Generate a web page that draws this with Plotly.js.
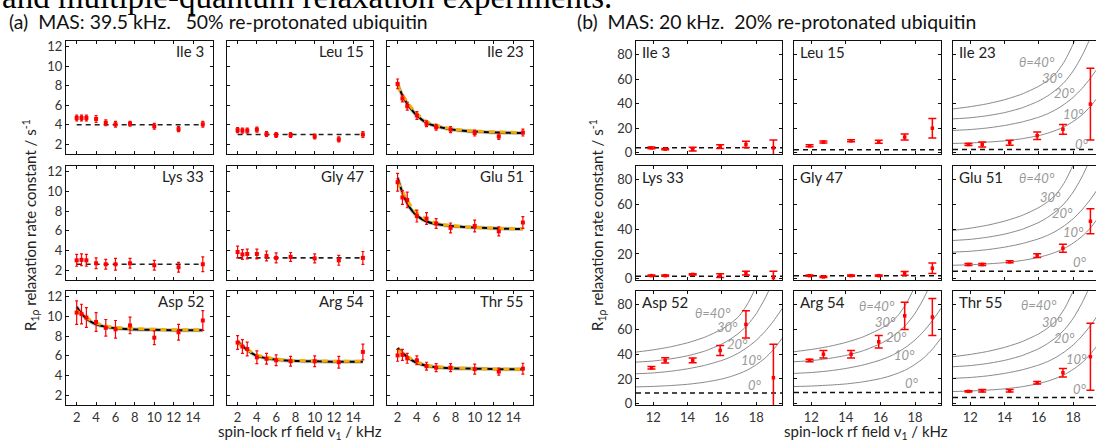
<!DOCTYPE html>
<html><head><meta charset="utf-8">
<script src="https://cdn.plot.ly/plotly-3.0.1.min.js"></script>
<style>html,body{margin:0;padding:0;overflow:hidden;background:#fff;width:1096px;height:441px}</style>
</head><body><div id="chart" style="width:1100px;height:441px"></div>
<script>
// ---------------- DATA ----------------
const residueNames = ['Ile 3','Leu 15','Ile 23','Lys 33','Gly 47','Glu 51','Asp 52','Arg 54','Thr 55'];
// (a) MAS 39.5 kHz
const fieldA = [2, 2.5, 3, 4, 5, 6, 7.5, 10, 12.5, 15];
const fitGridA = [2, 2.5, 3, 3.5, 4, 5, 6, 7.5, 10, 12.5, 15];
const a_Ile3  = [4.7, 4.7, 4.7, 4.6, 4.2, 4.05, 4.1, 3.85, 3.55, 4.05];
const a_Leu15 = [3.45, 3.4, 3.4, 3.5, 3.05, 2.95, 2.95, 2.8, 2.5, 3.0];
const a_Ile23 = [8.2, 6.7, 5.9, 4.95, 4.1, 3.75, 3.5, 3.15, 2.8, 3.2];
const a_Lys33 = [3.0, 3.05, 3.0, 2.7, 2.6, 2.6, 2.7, 2.5, 2.3, 2.6];
const a_Gly47 = [3.85, 3.6, 3.65, 3.65, 3.45, 3.25, 3.35, 3.2, 3.0, 3.25];
const a_Glu51 = [10.95, 9.4, 9.15, 7.5, 7.25, 6.75, 6.3, 6.5, 5.95, 6.85];
const a_Asp52 = [10.4, 10.25, 9.9, 9.45, 8.85, 8.7, 9.1, 7.85, 8.4, 9.6];
const a_Arg54 = [7.35, 6.95, 6.7, 5.85, 5.7, 5.55, 5.45, 5.45, 5.35, 6.4];
const a_Thr55 = [6.05, 6.1, 5.75, 5.55, 4.95, 4.8, 4.8, 4.65, 4.4, 4.7];
const aErr_Ile3  = [0.3, 0.3, 0.3, 0.35, 0.3, 0.3, 0.25, 0.3, 0.25, 0.3];
const aErr_Leu15 = [0.25, 0.25, 0.25, 0.25, 0.25, 0.25, 0.25, 0.25, 0.25, 0.3];
const aErr_Ile23 = [0.5, 0.35, 0.4, 0.4, 0.3, 0.3, 0.3, 0.3, 0.3, 0.35];
const aErr_Lys33 = [0.6, 0.6, 0.6, 0.55, 0.5, 0.6, 0.5, 0.5, 0.5, 0.75];
const aErr_Gly47 = [0.6, 0.5, 0.5, 0.5, 0.5, 0.5, 0.45, 0.45, 0.5, 0.65];
const aErr_Glu51 = [0.9, 0.7, 0.8, 0.6, 0.6, 0.5, 0.5, 0.6, 0.45, 0.6];
const aErr_Asp52 = [1.2, 1.0, 1.0, 0.95, 0.85, 0.9, 0.85, 0.7, 0.8, 1.0];
const aErr_Arg54 = [0.7, 0.7, 0.7, 0.65, 0.55, 0.55, 0.5, 0.55, 0.6, 0.8];
const aErr_Thr55 = [0.6, 0.55, 0.5, 0.45, 0.4, 0.4, 0.4, 0.5, 0.35, 0.55];
const flatA = [4.0, 3.0, null, 2.6, 3.25, null, null, null, null];
const blackFit_Ile23 = [8.2, 7.0, 6.15, 5.5, 4.95, 4.2, 3.85, 3.55, 3.3, 3.2, 3.15];
const orangeFit_Ile23 = [8.0, 7.1, 6.35, 5.7, 5.15, 4.35, 3.95, 3.6, 3.35, 3.25, 3.2];
const blackFit_Glu51 = [11.4, 9.9, 8.8, 8.05, 7.55, 6.95, 6.7, 6.5, 6.35, 6.25, 6.2];
const orangeFit_Glu51 = [11.0, 10.0, 9.1, 8.4, 7.85, 7.15, 6.8, 6.55, 6.35, 6.25, 6.2];
const blackFit_Asp52 = [11.0, 10.3, 9.8, 9.45, 9.2, 8.95, 8.8, 8.7, 8.65, 8.6, 8.6];
const orangeFit_Asp52 = [10.6, 10.2, 9.9, 9.6, 9.35, 9.05, 8.9, 8.8, 8.7, 8.65, 8.65];
const blackFit_Arg54 = [7.5, 7.0, 6.6, 6.25, 6.0, 5.75, 5.6, 5.5, 5.45, 5.4, 5.4];
const orangeFit_Arg54 = [7.3, 6.95, 6.65, 6.35, 6.1, 5.85, 5.7, 5.55, 5.5, 5.45, 5.45];
const blackFit_Thr55 = [6.8, 6.3, 5.9, 5.55, 5.3, 5.0, 4.85, 4.75, 4.7, 4.65, 4.65];
const orangeFit_Thr55 = [6.6, 6.25, 5.95, 5.65, 5.4, 5.05, 4.9, 4.8, 4.7, 4.65, 4.65];

// (b) MAS 20 kHz
const fieldB = [11.9, 12.7, 14.3, 15.9, 17.4, 19.0];
const b_Ile3  = [4, 3, 3, 5, 6.8, 4];
const b_Leu15 = [5.7, 8.7, 9.8, 9.0, 12.8, 20];
const b_Ile23 = [6.8, 6.8, 8.2, 13.9, 19.1, 39.6];
const b_Lys33 = [2.5, 2.5, 3.5, 2.5, 4.5, 1.0];
const b_Gly47 = [2.5, 1.5, 2.5, 2.5, 4.3, 8.5];
const b_Glu51 = [11.5, 11.5, 13.7, 18.6, 24.6, 46.4];
const b_Asp52 = [29, 35, 35, 43, 64, 21];
const b_Arg54 = [35, 40, 40, 50, 71, 70];
const b_Thr55 = [10, 10.5, 10.5, 17, 25, 38];
const bErr_Ile3  = [0.8, 0.5, 1.5, 1.5, 2.6, 6.5];
const bErr_Leu15 = [0.8, 0.8, 0.8, 1.2, 2.5, 8];
const bErr_Ile23 = [0.8, 2, 2, 3, 4, 29.3];
const bErr_Lys33 = [0.5, 0.5, 0.5, 1.5, 1.5, 5];
const bErr_Gly47 = [0.5, 0.5, 0.5, 0.5, 1.5, 4.2];
const bErr_Glu51 = [0.8, 0.8, 0.8, 1.5, 3.2, 10];
const bErr_Asp52 = [1, 2.2, 2, 4, 11, 27];
const bErr_Arg54 = [1, 3, 3, 5, 11, 15];
const bErr_Thr55 = [0.5, 1, 1, 1, 3.5, 27];
const baseB = [4.0, 2.5, 2.7, 2.0, 2.5, 6.0, 8.7, 9.0, 5.0];
const thetaGridB = [11, 12, 13, 14, 15, 16, 16.5, 17, 17.5, 18, 18.5, 19, 19.5];
const thetaLabels = ['θ=40°', '30°', '20°', '10°', '0°'];
const th10_Ile23 = [7.6, 8.0, 8.7, 9.7, 11.4, 14.0, 15.9, 18.3, 21.3, 25.5, 30.7, 37.7, 46.7];
const th20_Ile23 = [18.2, 18.9, 20.2, 22.2, 25.0, 29.0, 31.7, 35.2, 39.7, 45.2, 52.2, 60.7, 70.7];
const th30_Ile23 = [27.6, 28.5, 30.2, 32.7, 36.5, 42.2, 46.2, 51.2, 57.7, 66.7, 78.7, 93.7, 112.7];
const th40_Ile23 = [35.7, 37.5, 39.9, 43.2, 47.7, 54.2, 58.7, 64.7, 74.7, 88.7, 106.7, 127.7, 152.7];
const th10_Glu51 = [10.9, 11.3, 12.0, 13.0, 14.7, 17.3, 19.2, 21.6, 24.6, 28.8, 34, 41, 50];
const th20_Glu51 = [21.5, 22.2, 23.5, 25.5, 28.3, 32.3, 35, 38.5, 43, 48.5, 55.5, 64, 74];
const th30_Glu51 = [30.9, 31.8, 33.5, 36, 39.8, 45.5, 49.5, 54.5, 61, 70, 82, 97, 116];
const th40_Glu51 = [39, 40.8, 43.2, 46.5, 51, 57.5, 62, 68, 78, 92, 110, 131, 156];
const th10_Asp52 = [13.6, 14.0, 14.7, 15.7, 17.4, 20.0, 21.9, 24.3, 27.3, 31.5, 36.7, 43.7, 52.7];
const th20_Asp52 = [24.2, 24.9, 26.2, 28.2, 31.0, 35.0, 37.7, 41.2, 45.7, 51.2, 58.2, 66.7, 76.7];
const th30_Asp52 = [33.6, 34.5, 36.2, 38.7, 42.5, 48.2, 52.2, 57.2, 63.7, 72.7, 84.7, 99.7, 118.7];
const th40_Asp52 = [41.7, 43.5, 45.9, 49.2, 53.7, 60.2, 64.7, 70.7, 80.7, 94.7, 112.7, 133.7, 158.7];
const th10_Arg54 = [13.9, 14.3, 15.0, 16.0, 17.7, 20.3, 22.2, 24.6, 27.6, 31.8, 37, 44, 53];
const th20_Arg54 = [24.5, 25.2, 26.5, 28.5, 31.3, 35.3, 38, 41.5, 46, 51.5, 58.5, 67, 77];
const th30_Arg54 = [33.9, 34.8, 36.5, 39, 42.8, 48.5, 52.5, 57.5, 64, 73, 85, 100, 119];
const th40_Arg54 = [42, 43.8, 46.2, 49.5, 54, 60.5, 65, 71, 81, 95, 113, 134, 159];
const th10_Thr55 = [9.9, 10.3, 11.0, 12.0, 13.7, 16.3, 18.2, 20.6, 23.6, 27.8, 33, 40, 49];
const th20_Thr55 = [20.5, 21.2, 22.5, 24.5, 27.3, 31.3, 34, 37.5, 42, 47.5, 54.5, 63, 73];
const th30_Thr55 = [29.9, 30.8, 32.5, 35, 38.8, 44.5, 48.5, 53.5, 60, 69, 81, 96, 115];
const th40_Thr55 = [38, 39.8, 42.2, 45.5, 50, 56.5, 61, 67, 77, 91, 109, 130, 155];

// tick labels
const tickA_x = [2, 4, 6, 8, 10, 12, 14];
const tickA_y = [2, 4, 6, 8, 10, 12];
const tickB_x = [12, 14, 16, 18];
const tickB_y = [0, 20, 40, 60, 80];

// ---------------- BUILD ----------------
const W = 1100, H = 441;
const PX = v => v / W, PY = v => 1 - v / H;
const FONT = 'Lato, "Open Sans", sans-serif';
const RED = 'rgb(255,0,0)';

const dataA = [a_Ile3, a_Leu15, a_Ile23, a_Lys33, a_Gly47, a_Glu51, a_Asp52, a_Arg54, a_Thr55];
const errA = [aErr_Ile3, aErr_Leu15, aErr_Ile23, aErr_Lys33, aErr_Gly47, aErr_Glu51, aErr_Asp52, aErr_Arg54, aErr_Thr55];
const fitsA = {2: [blackFit_Ile23, orangeFit_Ile23], 5: [blackFit_Glu51, orangeFit_Glu51], 6: [blackFit_Asp52, orangeFit_Asp52], 7: [blackFit_Arg54, orangeFit_Arg54], 8: [blackFit_Thr55, orangeFit_Thr55]};
const dataB = [b_Ile3, b_Leu15, b_Ile23, b_Lys33, b_Gly47, b_Glu51, b_Asp52, b_Arg54, b_Thr55];
const errB = [bErr_Ile3, bErr_Leu15, bErr_Ile23, bErr_Lys33, bErr_Gly47, bErr_Glu51, bErr_Asp52, bErr_Arg54, bErr_Thr55];
const thetaB = {
  2: [th40_Ile23, th30_Ile23, th20_Ile23, th10_Ile23],
  5: [th40_Glu51, th30_Glu51, th20_Glu51, th10_Glu51],
  6: [th40_Asp52, th30_Asp52, th20_Asp52, th10_Asp52],
  7: [th40_Arg54, th30_Arg54, th20_Arg54, th10_Arg54],
  8: [th40_Thr55, th30_Thr55, th20_Thr55, th10_Thr55]
};
// label placement (data coords) for theta annotations
const thetaLabelPos = {
  2: [[15.9, 74], [16.8, 61], [17.5, 48.6], [18.0, 31.7], [18.5, 7.5]],
  5: [[15.9, 81], [16.7, 66], [17.4, 53], [18.0, 38], [18.4, 13.7]],
  6: [[15.5, 73], [16.3, 62], [16.9, 48.6], [17.7, 35], [17.9, 15.3]],
  7: [[15.8, 78.7], [16.3, 66], [16.9, 54], [17.4, 39], [17.8, 17]],
  8: [[16.0, 80], [16.8, 66], [17.5, 52.7], [18.2, 36], [18.4, 11.7]]
};

const colsA = [[66, 213], [227, 373], [387, 533]];
const colsB = [[636, 782], [794, 941], [953, 1099]];
const rows = [[41, 154], [166, 280], [291, 405]];
const rangeAx = [0.9, 16.05], rangeAy = [1, 12.6];
const rangeBx = [11, 19.5], rangeBy = [-1, 91];

const layout = {
  width: W, height: H, margin: {l: 0, r: 0, t: 0, b: 0},
  paper_bgcolor: '#fff', plot_bgcolor: '#fff', showlegend: false,
  font: {family: FONT, color: '#222'},
  annotations: []
};
const traces = [];

function axisCommon(range, tickvals, show) {
  return {range, tickvals, showticklabels: show, showgrid: false, zeroline: false,
    showline: true, mirror: 'ticks', linecolor: '#111', linewidth: 1,
    ticks: 'inside', ticklen: 3, tickcolor: '#111', tickwidth: 1,
    tickfont: {family: FONT, size: 13, color: '#333'}, fixedrange: true};
}

function addAxes(n, col, row, rx, ry, tx, ty, showX, showY) {
  const xk = n === 1 ? 'xaxis' : 'xaxis' + n, yk = n === 1 ? 'yaxis' : 'yaxis' + n;
  layout[xk] = Object.assign(axisCommon(rx, tx, showX), {domain: [PX(col[0]), PX(col[1])], anchor: 'y' + (n === 1 ? '' : n)});
  layout[yk] = Object.assign(axisCommon(ry, ty, showY), {domain: [PY(row[1]), PY(row[0])], anchor: 'x' + (n === 1 ? '' : n)});
  return {x: 'x' + (n === 1 ? '' : n), y: 'y' + (n === 1 ? '' : n)};
}

// Panel (a)
for (let i = 0; i < 9; i++) {
  const c = i % 3, r = Math.floor(i / 3), n = i + 1;
  const ax = addAxes(n, colsA[c], rows[r], rangeAx, rangeAy, tickA_x, tickA_y, r === 2, c === 0);
  if (flatA[i] !== null) {
    traces.push({x: [fieldA[0], fieldA[fieldA.length - 1]], y: [flatA[i], flatA[i]], xaxis: ax.x, yaxis: ax.y,
      mode: 'lines', line: {color: '#222', width: 1.6, dash: '5px,4px'}, hoverinfo: 'skip'});
  }
  if (fitsA[i]) {
    traces.push({x: fitGridA, y: fitsA[i][0], xaxis: ax.x, yaxis: ax.y, mode: 'lines',
      line: {color: '#c8c8c8', width: 4, shape: 'spline'}, hoverinfo: 'skip'});
    traces.push({x: fitGridA, y: fitsA[i][0], xaxis: ax.x, yaxis: ax.y, mode: 'lines',
      line: {color: '#000', width: 2, shape: 'spline'}, hoverinfo: 'skip'});
    traces.push({x: fitGridA, y: fitsA[i][1], xaxis: ax.x, yaxis: ax.y, mode: 'lines',
      line: {color: 'rgb(245,175,0)', width: 3, shape: 'spline', dash: '6px,5px'}, hoverinfo: 'skip'});
  }
  traces.push({x: fieldA, y: dataA[i], xaxis: ax.x, yaxis: ax.y, mode: 'markers',
    marker: {color: RED, size: 4, symbol: 'square'},
    error_y: {type: 'data', array: errA[i], visible: true, color: RED, thickness: 1.2, width: 1.5}});
  layout.annotations.push({xref: 'paper', yref: 'paper', x: PX(colsA[c][1] - 7), y: PY(rows[r][0] + 10),
    xanchor: 'right', yanchor: 'middle', text: residueNames[i], showarrow: false,
    font: {family: FONT, size: 15, color: '#222'}});
}

// Panel (b)
for (let i = 0; i < 9; i++) {
  const c = i % 3, r = Math.floor(i / 3), n = i + 10;
  const ax = addAxes(n, colsB[c], rows[r], rangeBx, rangeBy, tickB_x, tickB_y, r === 2, c === 0);
  if (thetaB[i]) {
    thetaB[i].forEach(curve => traces.push({x: thetaGridB, y: curve, xaxis: ax.x, yaxis: ax.y, mode: 'lines',
      line: {color: '#888', width: 1, shape: 'spline', smoothing: 0.6}, hoverinfo: 'skip'}));
    thetaLabelPos[i].forEach((p, k) => layout.annotations.push({xref: ax.x, yref: ax.y, x: p[0], y: p[1],
      text: thetaLabels[k], showarrow: false, xanchor: 'center', yanchor: 'middle',
      font: {family: FONT, size: 13, color: '#999', style: 'italic'}}));
  }
  traces.push({x: rangeBx, y: [baseB[i], baseB[i]], xaxis: ax.x, yaxis: ax.y, mode: 'lines',
    line: {color: '#111', width: 1.5, dash: '5px,4px'}, hoverinfo: 'skip'});
  traces.push({x: fieldB, y: dataB[i], xaxis: ax.x, yaxis: ax.y, mode: 'markers',
    marker: {color: RED, size: 3.5, symbol: 'square'},
    error_y: {type: 'data', array: errB[i], visible: true, color: RED, thickness: 1.5, width: 4}});
  layout.annotations.push({xref: 'paper', yref: 'paper', x: PX(colsB[c][0] + 4), y: PY(rows[r][0] + 11),
    xanchor: 'left', yanchor: 'middle', text: residueNames[i], showarrow: false,
    font: {family: FONT, size: 15, color: '#222'}});
}

// Titles and axis titles
const NB = '\u00a0';
layout.annotations.push(
  {xref: 'paper', yref: 'paper', x: 0, y: PY(-3), xanchor: 'left', yanchor: 'middle', showarrow: false,
   text: 'and multiple-quantum relaxation experiments.', font: {family: '"Liberation Serif", serif', size: 33, color: '#000'}},
  {xref: 'paper', yref: 'paper', x: PX(7), y: PY(21), xanchor: 'left', yanchor: 'middle', showarrow: false,
   text: '(a)' + NB + ' MAS: 39.5 kHz.' + NB + NB + ' 50% re-protonated ubiquitin', font: {family: FONT, size: 19.4, color: '#111'}},
  {xref: 'paper', yref: 'paper', x: PX(575), y: PY(21), xanchor: 'left', yanchor: 'middle', showarrow: false,
   text: '(b)' + NB + ' MAS: 20 kHz.' + NB + ' 20% re-protonated ubiquitin', font: {family: FONT, size: 19.4, color: '#111'}},
  {xref: 'paper', yref: 'paper', x: PX(30), y: PY(225), xanchor: 'center', yanchor: 'middle', showarrow: false, textangle: -90,
   text: 'R<sub>1ρ</sub> relaxation rate constant / s<sup>-1</sup>', font: {family: FONT, size: 15, color: '#222'}},
  {xref: 'paper', yref: 'paper', x: PX(597), y: PY(225), xanchor: 'center', yanchor: 'middle', showarrow: false, textangle: -90,
   text: 'R<sub>1ρ</sub> relaxation rate constant / s<sup>-1</sup>', font: {family: FONT, size: 15, color: '#222'}},
  {xref: 'paper', yref: 'paper', x: PX(300), y: PY(432), xanchor: 'center', yanchor: 'middle', showarrow: false,
   text: 'spin-lock rf field ν<sub>1</sub> / kHz', font: {family: FONT, size: 15, color: '#222'}},
  {xref: 'paper', yref: 'paper', x: PX(866), y: PY(432), xanchor: 'center', yanchor: 'middle', showarrow: false,
   text: 'spin-lock rf field ν<sub>1</sub> / kHz', font: {family: FONT, size: 15, color: '#222'}}
);

Plotly.newPlot('chart', traces, layout, {staticPlot: true, displayModeBar: false});
</script></body></html>
